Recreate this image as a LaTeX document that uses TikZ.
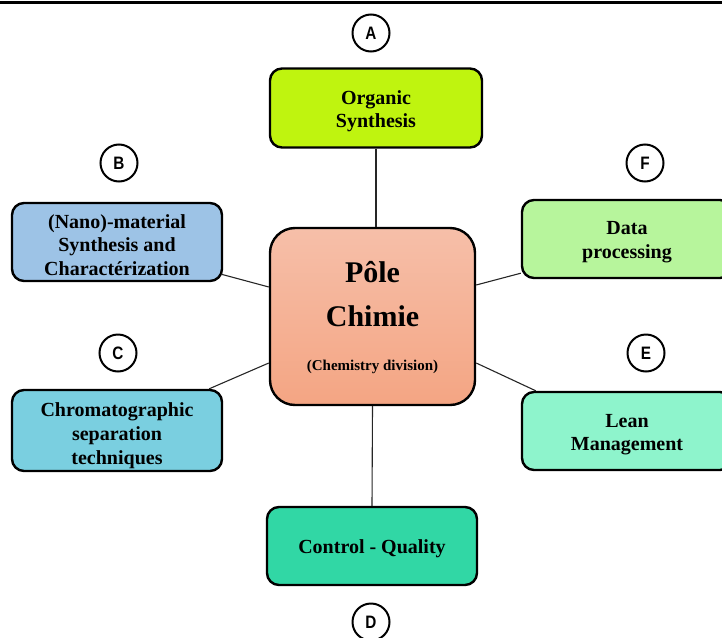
\documentclass[tikz,border=0pt]{standalone}
\usepackage{fontspec}
\setmainfont{Liberation Serif}
\newfontfamily\letterfont[FakeStretch=0.85]{Liberation Sans}
\definecolor{cOrg}{HTML}{BFF40F}
\definecolor{cB}{HTML}{9DC3E6}
\definecolor{cC}{HTML}{7ACFE0}
\definecolor{cF}{HTML}{B7F59C}
\definecolor{cE}{HTML}{8EF4CC}
\definecolor{cD}{HTML}{31D7A5}
\definecolor{cTop}{HTML}{F6BFA9}
\definecolor{cBot}{HTML}{F4A583}
\newcommand{\dropby}[2]{\raisebox{-#1}[\height][\depth]{\begin{tabular}{@{}c@{}}#2\end{tabular}}}
\tikzset{
  x=1pt, y=1pt,
  topic/.style={draw=black, line width=2.4pt, rounded corners=12pt,
    minimum width=210pt, minimum height=78pt, inner sep=0pt,
    font=\bfseries\fontsize{20}{23.5}\selectfont},
  hub/.style={draw=black, line width=2.4pt, rounded corners=25pt,
    minimum width=205pt, minimum height=177pt, inner sep=0pt,
    top color=cTop, bottom color=cBot,
    font=\bfseries\fontsize{30}{44}\selectfont},
  badge/.style={draw=black, line width=2pt, circle, minimum size=37pt, inner sep=0pt,
    font=\letterfont\bfseries\fontsize{18}{18}\selectfont},
  link/.style={draw=black!85, line width=1.1pt}
}
\begin{document}
\begin{tikzpicture}
\useasboundingbox (0,0) rectangle (722,-637);
\clip (0,0) rectangle (722,-637);
\draw[line width=3pt] (0,-2.5) -- (722,-2.5);

\node[hub] (P) at (372.5,-316.5) {\dropby{1pt}{Pôle\\Chimie\\{\fontsize{15}{15}\selectfont (Chemistry division)}}};

\node[topic, fill=cOrg, minimum width=212pt, minimum height=79pt, font=\bfseries\fontsize{20}{22.5}\selectfont] (O) at (376,-108) {\dropby{3.5pt}{Organic\\Synthesis}};
\node[topic, fill=cB] (B) at (117,-242) {\dropby{5pt}{(Nano)-material\\Synthesis and\\Charactérization}};
\node[topic, fill=cC, minimum height=81pt, font=\bfseries\fontsize{20}{24}\selectfont] (C) at (117,-430.5) {\dropby{5pt}{Chromatographic\\separation\\techniques}};
\node[topic, fill=cF] (F) at (627,-239) {\dropby{3pt}{Data\\processing}};
\node[topic, fill=cE, font=\bfseries\fontsize{20}{23}\selectfont] (E) at (627,-431) {\dropby{3.5pt}{Lean\\Management}};
\node[topic, fill=cD] (D) at (372,-546) {\dropby{2.6pt}{Control - Quality}};

\node[badge] (bA) at (371,-33) {A};
\node[badge] (bB) at (119,-163) {B};
\node[badge] (bC) at (118,-353) {C};
\node[badge] (bF) at (645,-163) {F};
\node[badge] (bE) at (646,-353) {E};
\node[badge] (bD) at (371,-622) {D};

\draw[link] (O.south) -- (O.south |- P.north);
\draw[link] (P.south) -- (D.north);
\draw[link] ([shift={(-2pt,8pt)}]B.south east) -- ([yshift=29.5pt]P.west);
\draw[link] ([xshift=-14pt]C.north east) -- ([yshift=-46.5pt]P.west);
\draw[link] ([yshift=31.5pt]P.east) -- ([yshift=6pt]F.south west);
\draw[link] ([yshift=-46.5pt]P.east) -- ([xshift=15pt]E.north west);
\end{tikzpicture}
\end{document}
